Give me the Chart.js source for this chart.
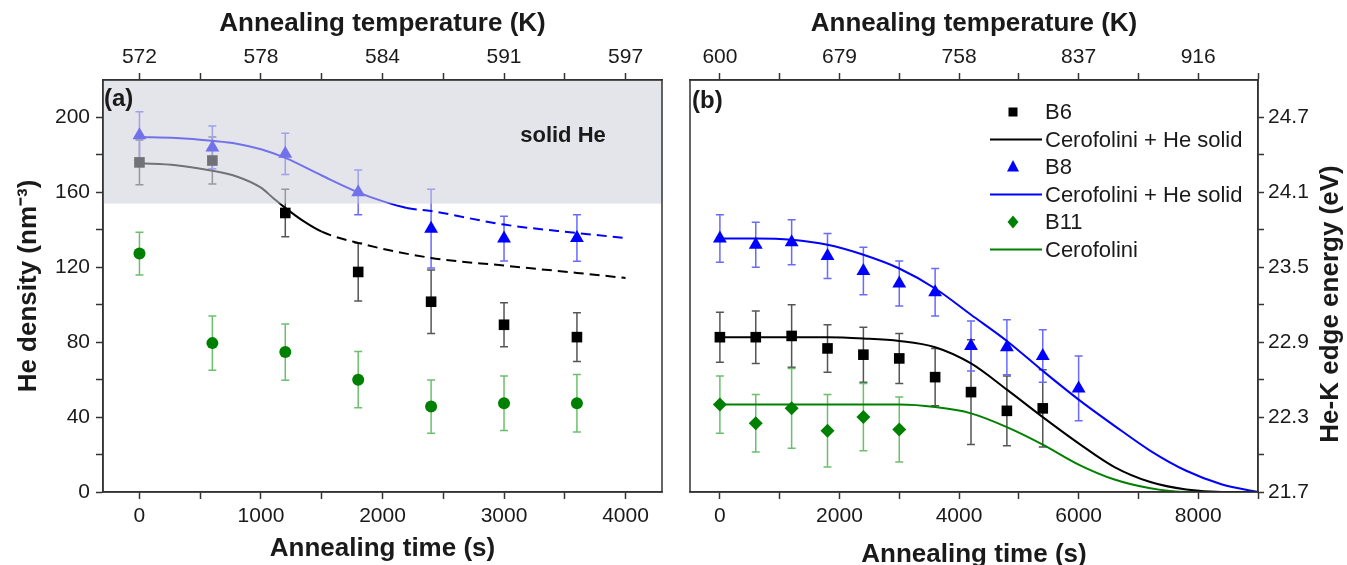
<!DOCTYPE html>
<html>
<head>
<meta charset="utf-8">
<script src="https://cdn.jsdelivr.net/npm/chart.js@4.4.1/dist/chart.umd.min.js"></script>
<style>
  html, body { margin: 0; padding: 0; background: #fff; }
  #wrap { position: relative; width: 1347px; height: 565px; overflow: hidden; }
  .panel { position: absolute; top: 0; height: 565px; }
  #panelA { left: 0; width: 670px; }
  #panelB { left: 670px; width: 677px; }
</style>
</head>
<body>
<div id="wrap">
  <div class="panel" id="panelA"><canvas id="chartA"></canvas></div>
  <div class="panel" id="panelB"><canvas id="chartB"></canvas></div>
</div>
<script>
// ---------- panel (a): He density ----------
const timesA = [0, 600, 1200, 1800, 2400, 3000, 3600];
const b6Density = [176, 177, 149, 117.5, 101.6, 89.3, 82.7];
const b6DensityErr = [12, 12.5, 12.7, 15.5, 17, 11.7, 13];
const b8Density = [190.5, 184, 180.6, 160, 140.6, 135.3, 135.6];
const b8DensityErr = [12.5, 11.4, 11, 12, 21, 12, 12.4];
const b11Density = [127.3, 79.5, 74.7, 60, 45.6, 47.4, 47.4];
const b11DensityErr = [11.4, 14.5, 15, 15, 14.2, 14.5, 15.4];

const blackFitTimeA = [0, 300, 600, 800, 1000, 1100, 1200, 1350, 1500, 1800, 2400, 3000, 3600, 4000];
const blackFitDensity = [175.5, 174.5, 171.5, 168.5, 162.5, 157, 151.7, 144.6, 139, 133, 125, 120.9, 117, 114.3];
const blueFitTimeA = [0, 300, 600, 800, 1000, 1200, 1500, 1800, 2000, 2200, 2400, 3000, 3600, 4000];
const blueFitDensity = [189.5, 189, 187.5, 186, 183, 178.4, 169, 160, 155.3, 151.7, 150, 142.8, 138.3, 135.6];
const blackDashFrom = 1500;
const blueDashFrom = 2200;
const solidHeFrom = 154;

const timeTicksA = [0, 500, 1000, 1500, 2000, 2500, 3000, 3500, 4000];
const tempTickPosA = [0, 1000, 2000, 3000, 4000];
const tempLabelsA = ['572', '578', '584', '591', '597'];
const densityTicks = [0, 20, 40, 60, 80, 100, 120, 140, 160, 180, 200];

// ---------- panel (b): He-K edge energy ----------
const timesB6 = [0, 600, 1200, 1800, 2400, 3000, 3600, 4200, 4800, 5400];
const b6Energy = [22.94, 22.94, 22.95, 22.85, 22.80, 22.77, 22.62, 22.50, 22.35, 22.37];
const b6EnergyErr = [0.2, 0.21, 0.25, 0.19, 0.22, 0.2, 0.23, 0.42, 0.28, 0.31];
const timesB8 = [0, 600, 1200, 1800, 2400, 3000, 3600, 4200, 4800, 5400, 6000];
const b8Energy = [23.73, 23.68, 23.70, 23.59, 23.47, 23.37, 23.30, 22.87, 22.86, 22.79, 22.53];
const b8EnergyErr = [0.19, 0.18, 0.18, 0.18, 0.19, 0.18, 0.19, 0.2, 0.22, 0.21, 0.26];
const timesB11 = [0, 600, 1200, 1800, 2400, 3000];
const b11Energy = [22.40, 22.25, 22.37, 22.19, 22.30, 22.20];
const b11EnergyErr = [0.23, 0.23, 0.32, 0.29, 0.27, 0.26];

const fitTimeB = [0, 600, 1200, 1800, 2400, 3000, 3600, 4200, 4800, 5400, 6000, 6600, 7200, 7800, 8400, 9000];
const blackFitEnergy = [22.94, 22.94, 22.94, 22.94, 22.93, 22.91, 22.86, 22.73, 22.52, 22.30, 22.09, 21.90, 21.78, 21.72, 21.70, 21.70];
const blueFitEnergy = [23.73, 23.73, 23.72, 23.68, 23.60, 23.49, 23.33, 23.12, 22.91, 22.67, 22.44, 22.23, 22.03, 21.87, 21.76, 21.70];
const greenFitEnergy = [22.40, 22.40, 22.40, 22.40, 22.40, 22.40, 22.38, 22.33, 22.22, 22.08, 21.92, 21.80, 21.73, 21.70, 21.70, 21.70];

const timeTicksB = [0, 1000, 2000, 3000, 4000, 5000, 6000, 7000, 8000, 9000];
const tempTickPosB = [0, 2000, 4000, 6000, 8000];
const tempLabelsB = ['600', '679', '758', '837', '916'];
const energyTicks = [21.7, 22.0, 22.3, 22.6, 22.9, 23.2, 23.5, 23.8, 24.1, 24.4, 24.7];

// ---------- shared styling ----------
const FONT = '"Liberation Sans", Arial, sans-serif';
const tickFont = { family: FONT, size: 21 };
const titleFont = { family: FONT, size: 26, weight: 'bold' };
const INK = '#1a1a1a';
const AXIS = '#333333';

const pts = (xs, ys) => xs.map((x, i) => ({ x: x, y: ys[i] }));

const gridOpts = { drawOnChartArea: false, tickLength: 7, tickColor: AXIS, tickWidth: 1.5 };
const borderOpts = { color: AXIS, width: 1.5 };

function fixedTicks(values) {
    return axis => { axis.ticks = values.map(v => ({ value: v })); };
}

const errorBars = {
    id: 'errorBars',
    beforeDatasetsDraw(chart) {
        const ctx = chart.ctx;
        chart.data.datasets.forEach((ds, i) => {
            if (!ds.errors) return;
            const meta = chart.getDatasetMeta(i);
            const xs = chart.scales[meta.xAxisID];
            const ys = chart.scales[meta.yAxisID];
            ctx.save();
            ctx.strokeStyle = ds.errorColor;
            ctx.lineWidth = 1.5;
            ds.data.forEach((p, j) => {
                const x = xs.getPixelForValue(p.x);
                const y1 = ys.getPixelForValue(p.y + ds.errors[j]);
                const y2 = ys.getPixelForValue(p.y - ds.errors[j]);
                ctx.beginPath();
                ctx.moveTo(x, y1); ctx.lineTo(x, y2);
                ctx.moveTo(x - 4, y1); ctx.lineTo(x + 4, y1);
                ctx.moveTo(x - 4, y2); ctx.lineTo(x + 4, y2);
                ctx.stroke();
            });
            ctx.restore();
        });
    }
};

const frame = {
    id: 'frame',
    afterDraw(chart) {
        const { ctx, chartArea: a } = chart;
        ctx.save();
        ctx.strokeStyle = AXIS;
        ctx.lineWidth = 1.5;
        ctx.strokeRect(a.left, a.top, a.right - a.left, a.bottom - a.top);
        ctx.restore();
    }
};

// ---------- chart (a) ----------
const shadeA = {
    id: 'shadeA',
    afterDatasetsDraw(chart) {
        const { ctx, chartArea: a, scales } = chart;
        const yTop = scales.y.getPixelForValue(scales.y.max);
        const yBot = scales.y.getPixelForValue(solidHeFrom);
        ctx.save();
        ctx.fillStyle = 'rgba(205, 205, 218, 0.55)';
        ctx.fillRect(a.left, yTop, a.right - a.left, yBot - yTop);
        ctx.fillStyle = INK;
        ctx.font = 'bold 22px ' + FONT;
        ctx.textAlign = 'center';
        ctx.textBaseline = 'middle';
        ctx.fillText('solid He', 563, 136);
        ctx.font = 'bold 24px ' + FONT;
        ctx.textAlign = 'left';
        ctx.fillText('(a)', a.left + 1, 99);
        ctx.restore();
    }
};

const fitLine = (color, dashFrom) => ({
    showLine: true,
    borderColor: color,
    borderWidth: 2,
    pointRadius: 0,
    cubicInterpolationMode: 'monotone',
    order: 2,
    segment: {
        borderDash: ctx => (ctx.p0.parsed.x >= dashFrom ? [10, 6] : undefined)
    }
});

new Chart(document.getElementById('chartA'), {
    type: 'scatter',
    data: {
        datasets: [
            Object.assign({ label: 'B6 fit', data: pts(blackFitTimeA, blackFitDensity) }, fitLine('#000000', blackDashFrom)),
            Object.assign({ label: 'B8 fit', data: pts(blueFitTimeA, blueFitDensity) }, fitLine('#0000ff', blueDashFrom)),
            {
                label: 'B6', data: pts(timesA, b6Density), errors: b6DensityErr, errorColor: '#555555',
                pointStyle: 'rect', pointRadius: 7.5, backgroundColor: '#000000', borderWidth: 0, order: 1
            },
            {
                label: 'B8', data: pts(timesA, b8Density), errors: b8DensityErr, errorColor: '#6a6aff',
                pointStyle: 'triangle', pointRadius: 8, backgroundColor: '#0000ff', borderWidth: 0, order: 1
            },
            {
                label: 'B11', data: pts(timesA, b11Density), errors: b11DensityErr, errorColor: '#6cc06c',
                pointStyle: 'circle', pointRadius: 6, backgroundColor: '#008000', borderWidth: 0, order: 1
            }
        ]
    },
    options: {
        responsive: true,
        maintainAspectRatio: false,
        animation: false,
        layout: { padding: { left: 0, right: 7, top: 0, bottom: 0 } },
        plugins: { legend: { display: false }, tooltip: { enabled: false } },
        scales: {
            x: {
                type: 'linear', position: 'bottom', min: -300, max: 4300,
                afterBuildTicks: fixedTicks(timeTicksA),
                afterFit: axis => { axis.height = 73; },
                ticks: {
                    font: tickFont, color: INK, autoSkip: false, maxRotation: 0, padding: 5,
                    callback: v => (v % 1000 === 0 ? String(v) : '')
                },
                grid: gridOpts, border: borderOpts,
                title: { display: true, text: 'Annealing time (s)', font: titleFont, color: INK, padding: { top: 0, bottom: 1 } }
            },
            xTop: {
                type: 'linear', position: 'top', min: -300, max: 4300,
                afterBuildTicks: fixedTicks(timeTicksA),
                afterFit: axis => { axis.height = 80; },
                ticks: {
                    font: tickFont, color: INK, autoSkip: false, maxRotation: 0, padding: 3,
                    callback: v => { const k = tempTickPosA.indexOf(v); return k >= 0 ? tempLabelsA[k] : ''; }
                },
                grid: gridOpts, border: borderOpts,
                title: { display: true, text: 'Annealing temperature (K)', font: titleFont, color: INK, padding: { top: 8, bottom: 0 } }
            },
            y: {
                type: 'linear', position: 'left', min: 0, max: 220,
                afterBuildTicks: fixedTicks(densityTicks),
                afterFit: axis => { axis.width = 103; },
                ticks: {
                    font: tickFont, color: INK, autoSkip: false, padding: 6,
                    callback: v => (v % 40 === 0 ? String(v) : '')
                },
                grid: gridOpts, border: borderOpts,
                title: { display: true, text: 'He density (nm\u207B\u00B3)', font: titleFont, color: INK, padding: { top: 13, bottom: 0 } }
            }
        }
    },
    plugins: [errorBars, shadeA, frame]
});

// ---------- chart (b) ----------
const legendB = {
    id: 'legendB',
    afterDraw(chart) {
        const ctx = chart.ctx;
        const rows = [112, 139.5, 167, 194.5, 222, 249.5];
        ctx.save();
        ctx.font = '22px ' + FONT;
        ctx.textBaseline = 'middle';
        ctx.textAlign = 'left';
        chart.data.datasets.forEach((ds, i) => {
            const y = rows[i];
            if (ds.showLine) {
                ctx.strokeStyle = ds.borderColor;
                ctx.lineWidth = 2;
                ctx.beginPath();
                ctx.moveTo(320, y); ctx.lineTo(372, y);
                ctx.stroke();
            } else {
                const x = 343;
                ctx.fillStyle = ds.backgroundColor;
                ctx.beginPath();
                if (ds.pointStyle === 'rect') {
                    ctx.rect(x - 4.5, y - 4.5, 9, 9);
                } else if (ds.pointStyle === 'triangle') {
                    ctx.moveTo(x, y - 7); ctx.lineTo(x + 6, y + 4.5); ctx.lineTo(x - 6, y + 4.5);
                } else {
                    ctx.moveTo(x, y - 6.5); ctx.lineTo(x + 5.5, y); ctx.lineTo(x, y + 6.5); ctx.lineTo(x - 5.5, y);
                }
                ctx.closePath();
                ctx.fill();
            }
            ctx.fillStyle = INK;
            ctx.fillText(ds.label, 375, y + 1);
        });
        // panel letter and right axis title (reads bottom to top)
        ctx.font = 'bold 24px ' + FONT;
        ctx.fillText('(b)', chart.chartArea.left + 2, 101);
        ctx.font = 'bold 26px ' + FONT;
        ctx.translate(661, 304);
        ctx.rotate(-Math.PI / 2);
        ctx.textAlign = 'center';
        ctx.fillText('He-K edge energy (eV)', 0, 0);
        ctx.restore();
    }
};

const fitCurve = color => ({
    showLine: true, borderColor: color, backgroundColor: color, borderWidth: 2,
    pointRadius: 0, cubicInterpolationMode: 'monotone', order: 2
});

new Chart(document.getElementById('chartB'), {
    type: 'scatter',
    data: {
        datasets: [
            {
                label: 'B6', data: pts(timesB6, b6Energy), errors: b6EnergyErr, errorColor: '#555555',
                pointStyle: 'rect', pointRadius: 7.5, backgroundColor: '#000000', borderWidth: 0, order: 1
            },
            Object.assign({ label: 'Cerofolini + He solid', data: pts(fitTimeB, blackFitEnergy) }, fitCurve('#000000')),
            {
                label: 'B8', data: pts(timesB8, b8Energy), errors: b8EnergyErr, errorColor: '#6a6aff',
                pointStyle: 'triangle', pointRadius: 8, backgroundColor: '#0000ff', borderWidth: 0, order: 1
            },
            Object.assign({ label: 'Cerofolini + He solid', data: pts(fitTimeB, blueFitEnergy) }, fitCurve('#0000ff')),
            {
                label: 'B11', data: pts(timesB11, b11Energy), errors: b11EnergyErr, errorColor: '#6cc06c',
                pointStyle: 'rectRot', pointRadius: 7, backgroundColor: '#008000', borderWidth: 0, order: 1
            },
            Object.assign({ label: 'Cerofolini', data: pts(fitTimeB, greenFitEnergy) }, fitCurve('#008000'))
        ]
    },
    options: {
        responsive: true,
        maintainAspectRatio: false,
        animation: false,
        layout: { padding: { left: 20, right: 0, top: 0, bottom: 0 } },
        plugins: { legend: { display: false }, tooltip: { enabled: false } },
        scales: {
            x: {
                type: 'linear', position: 'bottom', min: -500, max: 9000,
                afterBuildTicks: fixedTicks(timeTicksB),
                afterFit: axis => { axis.height = 73; },
                ticks: {
                    font: tickFont, color: INK, autoSkip: false, maxRotation: 0, padding: 5,
                    callback: v => (v % 2000 === 0 && v <= 8000 ? String(v) : '')
                },
                grid: gridOpts, border: borderOpts,
                title: { display: true, text: 'Annealing time (s)', font: titleFont, color: INK, padding: { top: 0, bottom: -5 } }
            },
            xTop: {
                type: 'linear', position: 'top', min: -500, max: 9000,
                afterBuildTicks: fixedTicks(timeTicksB),
                afterFit: axis => { axis.height = 80; },
                ticks: {
                    font: tickFont, color: INK, autoSkip: false, maxRotation: 0, padding: 3,
                    callback: v => { const k = tempTickPosB.indexOf(v); return k >= 0 ? tempLabelsB[k] : ''; }
                },
                grid: gridOpts, border: borderOpts,
                title: { display: true, text: 'Annealing temperature (K)', font: titleFont, color: INK, padding: { top: 8, bottom: 0 } }
            },
            y: {
                type: 'linear', position: 'right', min: 21.7, max: 25.0,
                afterBuildTicks: fixedTicks(energyTicks),
                afterFit: axis => { axis.width = 89; },
                ticks: {
                    font: tickFont, color: INK, autoSkip: false, padding: 4,
                    callback: (v, i) => (i % 2 === 0 ? v.toFixed(1) : '')
                },
                grid: Object.assign({}, gridOpts, { tickLength: 6 }), border: borderOpts
            }
        }
    },
    plugins: [errorBars, legendB, frame]
});
</script>
</body>
</html>
